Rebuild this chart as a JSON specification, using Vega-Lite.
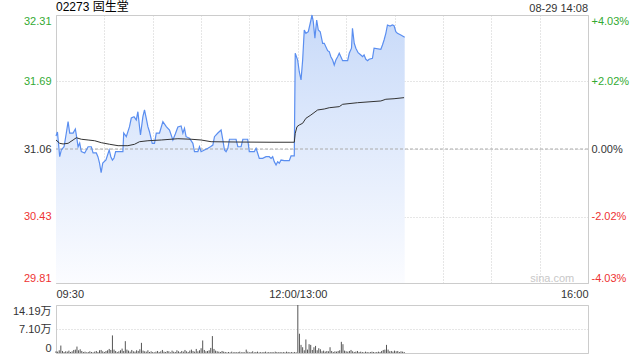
{
  "$schema": "https://vega.github.io/schema/vega-lite/v6.json",
  "background": "white",
  "padding": {"left": 11, "top": 0, "right": 10, "bottom": 4},
  "config": {
    "font": "Liberation Sans",
    "view": {"stroke": "#cccccc", "strokeWidth": 1},
    "axis": {"labelFont": "Liberation Sans, Noto Sans CJK SC", "labelFontSize": 11, "labelColor": "#333333", "ticks": false, "domain": false, "gridColor": "#cccccc", "gridDash": [1, 2], "title": null}
  },
  "datasets": {
    "price": [
      {"t":0,"p":31.181},{"t":0.9,"p":31.219},{"t":2.3,"p":30.988},{"t":3.3,"p":31.051},{"t":5.0,"p":31.081},{"t":6.4,"p":31.209},{"t":7.5,"p":31.315},{"t":8.5,"p":31.209},{"t":10.6,"p":31.209},{"t":12.0,"p":31.247},{"t":12.6,"p":31.191},{"t":13.7,"p":31.081},{"t":14.7,"p":31.116},{"t":15.7,"p":31.035},{"t":17.8,"p":31.023},{"t":19.9,"p":31.081},{"t":21.9,"p":31.081},{"t":23.0,"p":31.023},{"t":25.0,"p":31.023},{"t":26.0,"p":30.988},{"t":27.0,"p":30.929},{"t":28.0,"p":30.839},{"t":29.0,"p":30.929},{"t":31.0,"p":30.957},{"t":33.0,"p":31.051},{"t":34.0,"p":30.988},{"t":35.0,"p":30.957},{"t":36.0,"p":30.976},{"t":37.0,"p":31.035},{"t":41.5,"p":31.035},{"t":42.0,"p":31.209},{"t":43.6,"p":31.175},{"t":45.6,"p":31.268},{"t":46.7,"p":31.349},{"t":48.4,"p":31.361},{"t":49.8,"p":31.331},{"t":50.8,"p":31.408},{"t":51.8,"p":31.268},{"t":52.4,"p":31.191},{"t":53.9,"p":31.361},{"t":54.9,"p":31.424},{"t":56.0,"p":31.346},{"t":57.0,"p":31.268},{"t":58.0,"p":31.221},{"t":59.7,"p":31.113},{"t":61.1,"p":31.113},{"t":62.2,"p":31.209},{"t":64.2,"p":31.209},{"t":66.3,"p":31.315},{"t":68.4,"p":31.268},{"t":70.4,"p":31.237},{"t":72.5,"p":31.144},{"t":74.0,"p":31.2},{"t":75.6,"p":31.265},{"t":77.6,"p":31.275},{"t":78.7,"p":31.209},{"t":79.7,"p":31.253},{"t":80.7,"p":31.175},{"t":82.8,"p":31.16},{"t":84.9,"p":31.113},{"t":85.9,"p":31.035},{"t":88.0,"p":31.035},{"t":89.0,"p":31.081},{"t":90.0,"p":31.035},{"t":92.1,"p":31.051},{"t":94.2,"p":31.067},{"t":95.8,"p":31.081},{"t":97.3,"p":31.097},{"t":98.3,"p":31.175},{"t":100.4,"p":31.209},{"t":102.4,"p":31.237},{"t":103.5,"p":31.144},{"t":104.5,"p":31.051},{"t":105.5,"p":31.035},{"t":106.6,"p":31.067},{"t":107.6,"p":31.151},{"t":111.7,"p":31.151},{"t":112.8,"p":31.081},{"t":114.8,"p":31.081},{"t":115.9,"p":31.151},{"t":118.9,"p":31.151},{"t":119.9,"p":31.035},{"t":123.0,"p":31.035},{"t":124.1,"p":31.067},{"t":125.1,"p":31.02},{"t":126.1,"p":30.973},{"t":128.2,"p":30.973},{"t":130.3,"p":30.988},{"t":132.3,"p":30.988},{"t":133.4,"p":30.973},{"t":134.4,"p":30.988},{"t":135.4,"p":30.942},{"t":136.5,"p":30.911},{"t":137.5,"p":30.942},{"t":138.5,"p":30.927},{"t":139.6,"p":30.957},{"t":141.6,"p":30.951},{"t":144.7,"p":30.951},{"t":145.8,"p":30.995},{"t":147.8,"p":30.995},{"t":148.4,"p":31.953},{"t":149.9,"p":31.89},{"t":150.9,"p":31.781},{"t":152.0,"p":31.704},{"t":153.0,"p":31.89},{"t":154.0,"p":32.17},{"t":155.0,"p":32.139},{"t":156.5,"p":32.154},{"t":157.7,"p":32.233},{"t":158.8,"p":32.31},{"t":159.6,"p":32.248},{"t":160.6,"p":32.093},{"t":161.7,"p":32.263},{"t":162.7,"p":32.17},{"t":163.9,"p":32.154},{"t":165.4,"p":32.046},{"t":166.4,"p":32.046},{"t":168.5,"p":31.977},{"t":169.5,"p":31.968},{"t":170.5,"p":31.921},{"t":171.6,"p":31.89},{"t":172.6,"p":31.844},{"t":173.6,"p":31.89},{"t":174.7,"p":31.921},{"t":175.7,"p":31.953},{"t":176.7,"p":31.921},{"t":177.8,"p":31.884},{"t":180.9,"p":31.884},{"t":181.9,"p":31.953},{"t":183.3,"p":32.0},{"t":183.9,"p":32.186},{"t":185.0,"p":32.046},{"t":186.0,"p":32.0},{"t":187.4,"p":31.958},{"t":189.1,"p":31.937},{"t":190.2,"p":31.921},{"t":191.1,"p":31.937},{"t":192.2,"p":31.897},{"t":193.3,"p":31.884},{"t":194.2,"p":31.897},{"t":196.3,"p":31.906},{"t":197.3,"p":32.0},{"t":201.5,"p":31.99},{"t":202.5,"p":32.03},{"t":203.5,"p":32.077},{"t":204.6,"p":32.139},{"t":205.6,"p":32.217},{"t":207.2,"p":32.207},{"t":208.7,"p":32.217},{"t":209.7,"p":32.21},{"t":210.8,"p":32.154},{"t":211.8,"p":32.139},{"t":213.9,"p":32.123},{"t":216.3,"p":32.102}
    ],
    "avg": [
      {"t":0,"a":31.144},{"t":2.3,"a":31.113},{"t":4.4,"a":31.107},{"t":7.5,"a":31.113},{"t":10.6,"a":31.144},{"t":12.6,"a":31.165},{"t":15.7,"a":31.151},{"t":19.9,"a":31.144},{"t":24.0,"a":31.137},{"t":28.1,"a":31.119},{"t":33.3,"a":31.104},{"t":38.5,"a":31.091},{"t":44.6,"a":31.091},{"t":48.7,"a":31.104},{"t":51.8,"a":31.128},{"t":57.0,"a":31.137},{"t":65.3,"a":31.144},{"t":75.6,"a":31.156},{"t":83.8,"a":31.151},{"t":90.0,"a":31.144},{"t":96.2,"a":31.128},{"t":112.8,"a":31.125},{"t":133.4,"a":31.123},{"t":147.8,"a":31.123},{"t":148.4,"a":31.207},{"t":149.5,"a":31.268},{"t":150.9,"a":31.284},{"t":153.0,"a":31.3},{"t":155.0,"a":31.346},{"t":158.1,"a":31.377},{"t":162.3,"a":31.424},{"t":166.4,"a":31.433},{"t":169.5,"a":31.445},{"t":175.7,"a":31.455},{"t":177.8,"a":31.477},{"t":187.1,"a":31.492},{"t":201.5,"a":31.508},{"t":204.6,"a":31.524},{"t":209.7,"a":31.529},{"t":215.9,"a":31.539}
    ],
    "vol": [
      {"t":0,"v":0.5},{"t":1,"v":0.4},{"t":2,"v":0.8},{"t":3,"v":2.2},{"t":4,"v":0.6},{"t":5,"v":0.3},{"t":6,"v":0.5},{"t":7,"v":0.4},{"t":8,"v":0.7},{"t":9,"v":0.3},{"t":10,"v":0.5},{"t":11,"v":0.9},{"t":12,"v":1.0},{"t":13,"v":1.9},{"t":14,"v":0.8},{"t":15,"v":1.1},{"t":16,"v":0.6},{"t":17,"v":0.3},{"t":18,"v":0.4},{"t":19,"v":0.2},{"t":20,"v":0.3},{"t":21,"v":0.5},{"t":22,"v":0.3},{"t":23,"v":0.2},{"t":24,"v":0.4},{"t":25,"v":0.6},{"t":26,"v":0.3},{"t":27,"v":0.8},{"t":28,"v":0.9},{"t":29,"v":0.5},{"t":30,"v":0.3},{"t":31,"v":0.6},{"t":32,"v":0.8},{"t":33,"v":1.2},{"t":34,"v":0.9},{"t":35,"v":5.2},{"t":36,"v":1.0},{"t":37,"v":0.6},{"t":38,"v":0.3},{"t":39,"v":0.5},{"t":40,"v":0.8},{"t":41,"v":1.3},{"t":42,"v":0.6},{"t":43,"v":3.5},{"t":44,"v":1.0},{"t":45,"v":0.7},{"t":46,"v":0.4},{"t":47,"v":0.9},{"t":48,"v":0.5},{"t":49,"v":0.4},{"t":50,"v":0.8},{"t":51,"v":0.6},{"t":52,"v":1.1},{"t":53,"v":3.0},{"t":54,"v":0.7},{"t":55,"v":0.5},{"t":56,"v":0.4},{"t":57,"v":0.8},{"t":58,"v":0.3},{"t":59,"v":0.5},{"t":60,"v":0.3},{"t":61,"v":0.2},{"t":62,"v":0.4},{"t":63,"v":0.6},{"t":64,"v":0.3},{"t":65,"v":0.5},{"t":66,"v":0.9},{"t":67,"v":0.4},{"t":68,"v":0.3},{"t":69,"v":0.6},{"t":70,"v":0.5},{"t":71,"v":0.2},{"t":72,"v":0.7},{"t":73,"v":0.4},{"t":74,"v":0.3},{"t":75,"v":0.8},{"t":76,"v":0.5},{"t":77,"v":0.3},{"t":78,"v":0.6},{"t":79,"v":0.4},{"t":80,"v":0.9},{"t":81,"v":0.5},{"t":82,"v":0.3},{"t":83,"v":0.7},{"t":84,"v":1.0},{"t":85,"v":0.6},{"t":86,"v":0.4},{"t":87,"v":1.2},{"t":88,"v":0.5},{"t":89,"v":0.8},{"t":90,"v":1.4},{"t":91,"v":3.7},{"t":92,"v":0.9},{"t":93,"v":0.5},{"t":94,"v":0.6},{"t":95,"v":0.8},{"t":96,"v":1.5},{"t":97,"v":5.0},{"t":98,"v":1.2},{"t":99,"v":0.7},{"t":100,"v":0.5},{"t":101,"v":0.4},{"t":102,"v":0.3},{"t":103,"v":0.6},{"t":104,"v":0.4},{"t":105,"v":0.3},{"t":106,"v":0.2},{"t":107,"v":0.3},{"t":108,"v":0.2},{"t":109,"v":0.4},{"t":110,"v":0.2},{"t":111,"v":0.3},{"t":112,"v":0.2},{"t":113,"v":0.3},{"t":114,"v":0.4},{"t":115,"v":0.2},{"t":116,"v":0.3},{"t":117,"v":0.2},{"t":118,"v":1.0},{"t":119,"v":0.4},{"t":120,"v":0.2},{"t":121,"v":0.3},{"t":122,"v":0.5},{"t":123,"v":0.2},{"t":124,"v":0.3},{"t":125,"v":0.4},{"t":126,"v":0.2},{"t":127,"v":0.3},{"t":128,"v":0.2},{"t":129,"v":0.3},{"t":130,"v":0.4},{"t":131,"v":0.2},{"t":132,"v":0.3},{"t":133,"v":0.2},{"t":134,"v":0.3},{"t":135,"v":0.2},{"t":136,"v":0.4},{"t":137,"v":0.3},{"t":138,"v":0.2},{"t":139,"v":0.3},{"t":140,"v":0.2},{"t":141,"v":0.3},{"t":142,"v":0.2},{"t":143,"v":0.4},{"t":144,"v":0.3},{"t":145,"v":0.2},{"t":146,"v":0.3},{"t":147,"v":0.2},{"t":148,"v":0.3},{"t":149,"v":0.2},{"t":150,"v":14.19},{"t":151,"v":5.7},{"t":152,"v":2.4},{"t":153,"v":1.7},{"t":154,"v":0.8},{"t":155,"v":4.0},{"t":156,"v":1.0},{"t":157,"v":2.6},{"t":158,"v":2.4},{"t":159,"v":0.9},{"t":160,"v":1.7},{"t":161,"v":2.1},{"t":162,"v":0.8},{"t":163,"v":1.4},{"t":164,"v":1.1},{"t":165,"v":0.5},{"t":166,"v":0.7},{"t":167,"v":0.4},{"t":168,"v":0.6},{"t":169,"v":0.5},{"t":170,"v":1.7},{"t":171,"v":0.6},{"t":172,"v":0.3},{"t":173,"v":0.5},{"t":174,"v":0.4},{"t":175,"v":0.6},{"t":176,"v":0.8},{"t":177,"v":3.3},{"t":178,"v":2.6},{"t":179,"v":0.7},{"t":180,"v":0.5},{"t":181,"v":0.4},{"t":182,"v":0.6},{"t":183,"v":0.9},{"t":184,"v":0.5},{"t":185,"v":0.3},{"t":186,"v":0.4},{"t":187,"v":0.6},{"t":188,"v":0.3},{"t":189,"v":0.4},{"t":190,"v":0.3},{"t":191,"v":0.2},{"t":192,"v":0.4},{"t":193,"v":0.3},{"t":194,"v":0.2},{"t":195,"v":0.3},{"t":196,"v":0.4},{"t":197,"v":0.3},{"t":198,"v":0.2},{"t":199,"v":0.3},{"t":200,"v":0.4},{"t":201,"v":0.3},{"t":202,"v":0.6},{"t":203,"v":0.9},{"t":204,"v":1.0},{"t":205,"v":2.4},{"t":206,"v":1.0},{"t":207,"v":0.5},{"t":208,"v":0.6},{"t":209,"v":0.4},{"t":210,"v":0.7},{"t":211,"v":0.5},{"t":212,"v":0.6},{"t":213,"v":0.3},{"t":214,"v":0.5},{"t":215,"v":0.4},{"t":216,"v":0.3}
    ]
  },
  "bounds": "flush",
  "spacing": 22,
  "vconcat": [
    {
      "width": 532,
      "height": 268,
      "layer": [
        {
          "layer": [
            {
              "data": {"name": "price"},
              "mark": {"type": "area", "fill": {"gradient": "linear", "x1": 0, "y1": 0, "x2": 0, "y2": 1, "stops": [{"offset": 0, "color": "#c8daf9"}, {"offset": 1, "color": "#fbfcff"}]}},
              "encoding": {
                "x": {"field": "t", "type": "quantitative", "scale": {"domain": [0, 330], "nice": false},
                  "axis": {"values": [0, 30, 60, 90, 120, 150, 180, 210, 240, 270, 300, 330], "grid": true, "labelFlush": true, "labelPadding": 5,
                    "labelExpr": "datum.value == 0 ? '09:30' : datum.value == 150 ? '12:00/13:00' : datum.value == 330 ? '16:00' : ''"}},
                "y": {"field": "p", "type": "quantitative", "scale": {"domain": [29.81, 32.31], "zero": false, "nice": false},
                  "axis": {"values": [29.81, 30.43, 31.06, 31.69, 32.31], "grid": true, "labelFlush": true, "labelPadding": 5, "format": ".2f",
                    "labelColor": {"condition": [{"test": "datum.value > 31.07", "value": "#33aa33"}, {"test": "datum.value < 31.05", "value": "#ee3333"}], "value": "#333333"}}},
                "y2": {"datum": 29.81}
              }
            },
            {
              "data": {"values": [{"level": 31.06}]},
              "mark": {"type": "rule", "color": "#aaaaaa", "strokeDash": [3, 2], "strokeWidth": 1},
              "encoding": {"y": {"field": "level", "type": "quantitative"}}
            },
            {
              "data": {"name": "price"},
              "mark": {"type": "line", "color": "#5a8ef0", "strokeWidth": 1.2},
              "encoding": {"x": {"field": "t", "type": "quantitative"}, "y": {"field": "p", "type": "quantitative"}}
            },
            {
              "data": {"name": "avg"},
              "mark": {"type": "line", "color": "#333333", "strokeWidth": 1},
              "encoding": {"x": {"field": "t", "type": "quantitative"}, "y": {"field": "a", "type": "quantitative"}}
            },
            {
              "data": {"values": [{}]},
              "mark": {"type": "text", "align": "left", "baseline": "bottom", "dy": -1, "fontSize": 12, "color": "#000000", "font": "Liberation Sans, Noto Sans CJK SC"},
              "encoding": {"x": {"datum": 0, "type": "quantitative"}, "y": {"datum": 32.31, "type": "quantitative"}, "text": {"value": "02273 固生堂"}}
            },
            {
              "data": {"values": [{}]},
              "mark": {"type": "text", "align": "right", "baseline": "bottom", "dy": -1, "fontSize": 11, "color": "#333333", "font": "Liberation Sans"},
              "encoding": {"x": {"datum": 330, "type": "quantitative"}, "y": {"datum": 32.31, "type": "quantitative"}, "text": {"value": "08-29 14:08"}}
            },
            {
              "data": {"values": [{}]},
              "mark": {"type": "text", "align": "right", "baseline": "middle", "fontSize": 11, "color": "#c8c8c8", "font": "Liberation Sans"},
              "encoding": {"x": {"datum": 321.5, "type": "quantitative"}, "y": {"datum": 29.85, "type": "quantitative"}, "text": {"value": "sina.com"}}
            }
          ]
        },
        {
          "data": {"name": "price"},
          "mark": {"type": "point", "opacity": 0},
          "encoding": {
            "y": {"field": "p", "type": "quantitative", "scale": {"domain": [29.81, 32.31], "zero": false, "nice": false},
              "axis": {"orient": "right", "values": [29.81, 30.43, 31.06, 31.69, 32.31], "grid": false, "labelFlush": true, "labelPadding": 3,
                "labelExpr": "['-4.03%', '-2.02%', '0.00%', '+2.02%', '+4.03%'][indexof([29.81, 30.43, 31.06, 31.69, 32.31], datum.value)]",
                "labelColor": {"condition": [{"test": "datum.value > 31.07", "value": "#33aa33"}, {"test": "datum.value < 31.05", "value": "#ee3333"}], "value": "#333333"}}}
          }
        }
      ],
      "resolve": {"scale": {"y": "independent"}}
    },
    {
      "width": 532,
      "height": 48,
      "data": {"name": "vol"},
      "mark": {"type": "rule", "color": "#555555", "strokeWidth": 1},
      "encoding": {
        "x": {"field": "t", "type": "quantitative", "scale": {"domain": [0, 330], "nice": false}, "axis": null},
        "y": {"field": "v", "type": "quantitative", "scale": {"domain": [0, 14.19], "nice": false},
          "axis": {"values": [0, 7.095, 14.19], "grid": true, "labelFlush": true, "labelPadding": 5,
            "labelExpr": "datum.value == 0 ? '0' : datum.value < 10 ? '7.10万' : '14.19万'"}},
        "y2": {"datum": 0}
      }
    }
  ]
}
